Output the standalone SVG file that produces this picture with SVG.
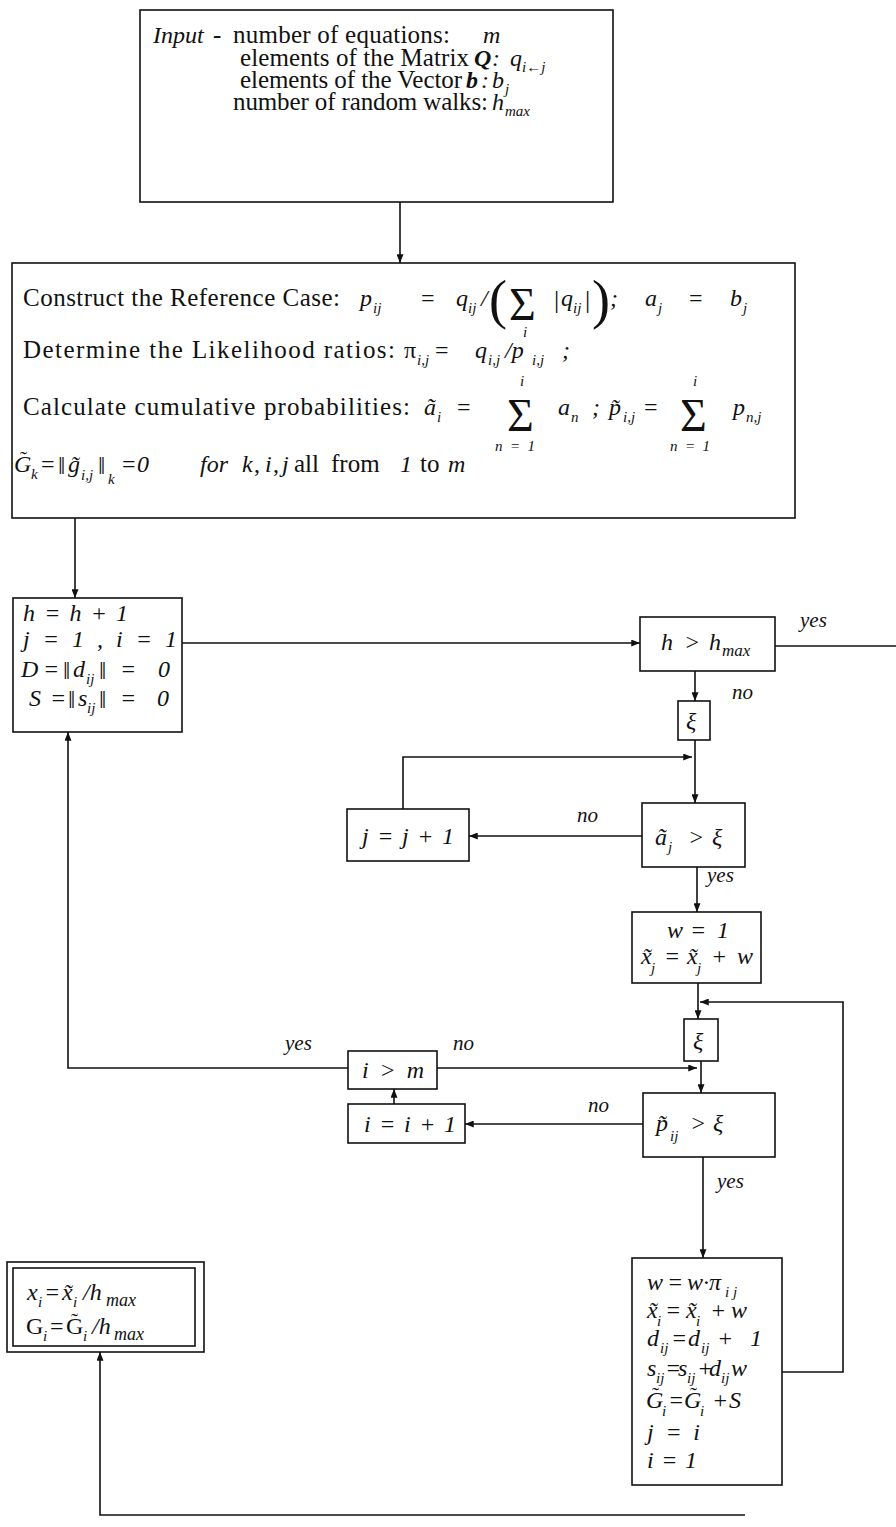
<svg xmlns="http://www.w3.org/2000/svg" width="896" height="1527" viewBox="0 0 896 1527">
<style>
text{font-family:"Liberation Serif","Times New Roman","DejaVu Serif",serif;fill:#111}
.r{font-size:25px}
.i{font-size:24px;font-style:italic}
.s{font-size:15px;font-style:italic}
.u{font-style:normal}
.bi{font-style:italic;font-weight:bold}
.lb{font-size:21px;font-style:italic}
.tl{font-size:21px;font-style:normal}
.big{font-size:54px;font-style:normal}
.sig{font-size:46px;font-style:normal}
.bar{font-size:26px;font-style:normal}
.box{fill:#fff;stroke:#111;stroke-width:1.6}
.ln{fill:none;stroke:#111;stroke-width:1.6}
.ar{marker-end:url(#a)}
</style>
<defs>
<marker id="a" viewBox="0 0 10 8" refX="10" refY="4" markerWidth="9" markerHeight="7" orient="auto" markerUnits="userSpaceOnUse"><path d="M0,0L10,4L0,8z" fill="#111"/></marker>
</defs>
<rect width="896" height="1527" fill="#fff"/>

<g id="connectors">
<path class="ln ar" d="M400,202V263"/>
<path class="ln ar" d="M75,518V598"/>
<path class="ln ar" d="M182,643H640"/>
<path class="ln" d="M775,646H896"/>
<path class="ln ar" d="M695,671V701"/>
<path class="ln ar" d="M695,740V803"/>
<path class="ln ar" d="M403,809V757H692"/>
<path class="ln ar" d="M642,836H469"/>
<path class="ln ar" d="M697,867V912"/>
<path class="ln ar" d="M698,983V1019"/>
<path class="ln ar" d="M782,1372H843V1002H700"/>
<path class="ln ar" d="M701,1061V1093"/>
<path class="ln ar" d="M437,1068H697"/>
<path class="ln ar" d="M643,1124H465"/>
<path class="ln ar" d="M394,1104V1089"/>
<path class="ln ar" d="M348,1068H68V732"/>
<path class="ln ar" d="M703,1157V1258"/>
<path class="ln ar" d="M745,1515H100V1352"/>
<text class="lb" x="800" y="627">yes</text>
<text class="lb" x="732" y="699">no</text>
<text class="lb" x="577" y="822">no</text>
<text class="lb" x="707" y="882">yes</text>
<text class="lb" x="285" y="1050">yes</text>
<text class="lb" x="453" y="1050">no</text>
<text class="lb" x="588" y="1112">no</text>
<text class="lb" x="717" y="1188">yes</text>
</g>

<g id="input">
<rect class="box" x="140" y="10" width="473" height="192"/>
<text class="i" x="153" y="43">Input</text>
<text class="r" x="213" y="43">-</text>
<text class="r" x="233" y="43" textLength="217" lengthAdjust="spacing">number of equations:</text>
<text class="i" x="483" y="43">m</text>
<text class="r" x="240" y="66" textLength="229" lengthAdjust="spacing">elements of the Matrix</text>
<text class="i"><tspan class="bi" x="474" y="66">Q</tspan><tspan x="492" y="66">:</tspan><tspan x="510" y="66">q</tspan><tspan class="s" x="522" y="72">i←j</tspan></text>
<text class="r" x="240" y="88" textLength="222" lengthAdjust="spacing">elements of the Vector</text>
<text class="i"><tspan class="bi" x="466" y="88">b</tspan><tspan x="481" y="88">:</tspan><tspan x="492" y="88">b</tspan><tspan class="s" x="505" y="94">j</tspan></text>
<text class="r" x="233" y="110" textLength="255" lengthAdjust="spacing">number of random walks:</text>
<text class="i"><tspan x="492" y="110">h</tspan><tspan class="s" x="505" y="116">max</tspan></text>
</g>

<g id="reference">
<rect class="box" x="12" y="263" width="783" height="255"/>
<text class="r" x="23" y="306" textLength="317" lengthAdjust="spacing">Construct the Reference Case:</text>
<text class="i"><tspan x="360" y="306">p</tspan><tspan class="s" x="373" y="313">ij</tspan><tspan class="u" x="421" y="306">=</tspan><tspan x="456" y="306">q</tspan><tspan class="s" x="468" y="313">ij</tspan><tspan x="481" y="306">/</tspan><tspan class="big" x="489" y="318">(</tspan><tspan class="sig" x="509" y="320">Σ</tspan><tspan class="s" x="523" y="337">i</tspan><tspan class="bar" x="554" y="308">|</tspan><tspan x="561" y="306">q</tspan><tspan class="s" x="573" y="313">ij</tspan><tspan class="bar" x="585" y="308">|</tspan><tspan class="big" x="592" y="318">)</tspan><tspan x="610" y="306">;</tspan><tspan x="645" y="306">a</tspan><tspan class="s" x="658" y="313">j</tspan><tspan class="u" x="689" y="306">=</tspan><tspan x="730" y="306">b</tspan><tspan class="s" x="743" y="313">j</tspan></text>

<text class="r" x="23" y="358" textLength="372" lengthAdjust="spacing">Determine the Likelihood ratios:</text>
<text class="i"><tspan class="u" x="404" y="358">π</tspan><tspan class="s" x="417" y="365">i,j</tspan><tspan class="u" x="435" y="358">=</tspan><tspan x="475" y="358">q</tspan><tspan class="s" x="488" y="365">i,j</tspan><tspan x="505" y="358">/p</tspan><tspan class="s" x="532" y="365">i,j</tspan><tspan x="562" y="358">;</tspan></text>

<text class="r" x="23" y="415" textLength="387" lengthAdjust="spacing">Calculate cumulative probabilities:</text>
<text class="i"><tspan x="424" y="415">ã</tspan><tspan class="s" x="437" y="422">i</tspan><tspan class="u" x="457" y="415">=</tspan><tspan class="sig" x="507" y="431">Σ</tspan><tspan class="s" x="520" y="386">i</tspan><tspan class="s" x="495" y="451" xml:space="preserve">n  =  1</tspan><tspan x="558" y="415">a</tspan><tspan class="s" x="571" y="422">n</tspan><tspan x="592" y="415">;</tspan><tspan x="609" y="415">p̃</tspan><tspan class="s" x="623" y="422">i,j</tspan><tspan class="u" x="644" y="415">=</tspan><tspan class="sig" x="680" y="431">Σ</tspan><tspan class="s" x="693" y="386">i</tspan><tspan class="s" x="670" y="451" xml:space="preserve">n  =  1</tspan><tspan x="733" y="415">p</tspan><tspan class="s" x="746" y="422">n,j</tspan></text>

<text class="i"><tspan x="14" y="472">G</tspan><tspan class="tl" x="20" y="466">˜</tspan><tspan class="s" x="31" y="479">k</tspan><tspan class="u" x="41" y="472">=</tspan><tspan class="bar" x="58" y="474">‖</tspan><tspan x="68" y="472">g̃</tspan><tspan class="s" x="81" y="480">i,j</tspan><tspan class="bar" x="98" y="474">‖</tspan><tspan class="s" x="108" y="484">k</tspan><tspan class="u" x="122" y="472">=</tspan><tspan x="137" y="472">0</tspan><tspan x="200" y="472">for</tspan><tspan x="242" y="472">k</tspan><tspan class="u" x="254" y="472">,</tspan><tspan x="265" y="472">i</tspan><tspan class="u" x="273" y="472">,</tspan><tspan x="282" y="472">j</tspan></text>
<text class="r" x="294" y="472">all</text>
<text class="r" x="331" y="472">from</text>
<text class="i"><tspan x="400" y="472">1</tspan><tspan class="u" x="420" y="472" style="font-size:25px">to</tspan><tspan x="448" y="472">m</tspan></text>
</g>

<g id="init">
<rect class="box" x="13" y="598" width="169" height="134"/>
<text class="i" x="23" y="621" textLength="105" lengthAdjust="spacing">h = h + 1</text>
<text class="i" x="23" y="647" textLength="154" lengthAdjust="spacing">j = 1 ,  i = 1</text>
<text class="i"><tspan x="21" y="677">D</tspan><tspan x="43" y="677">=</tspan><tspan class="bar" x="63" y="679">‖</tspan><tspan x="73" y="677">d</tspan><tspan class="s" x="86" y="684">ij</tspan><tspan class="bar" x="99" y="679">‖</tspan><tspan x="120" y="677">=</tspan><tspan x="158" y="677">0</tspan></text>
<text class="i"><tspan x="29" y="706">S</tspan><tspan x="50" y="706">=</tspan><tspan class="bar" x="68" y="708">‖</tspan><tspan x="78" y="706">s</tspan><tspan class="s" x="87" y="713">ij</tspan><tspan class="bar" x="99" y="708">‖</tspan><tspan x="120" y="706">=</tspan><tspan x="157" y="706">0</tspan></text>
</g>

<g id="test-h">
<rect class="box" x="640" y="617" width="135" height="54"/>
<text class="i"><tspan x="661" y="650">h</tspan><tspan x="684" y="650">&gt;</tspan><tspan x="709" y="650">h</tspan><tspan class="s" x="722" y="656" style="font-size:17px">max</tspan></text>
</g>

<g id="xi1">
<rect class="box" x="678" y="701" width="32" height="39"/>
<text class="i" x="686" y="729">ξ</text>
</g>

<g id="inc-j">
<rect class="box" x="347" y="809" width="122" height="52"/>
<text class="i" x="362" y="844" textLength="92" lengthAdjust="spacing">j = j + 1</text>
</g>

<g id="test-a">
<rect class="box" x="642" y="803" width="103" height="64"/>
<text class="i"><tspan x="655" y="845">ã</tspan><tspan class="s" x="668" y="852">j</tspan><tspan x="688" y="845">&gt;</tspan><tspan x="712" y="845">ξ</tspan></text>
</g>

<g id="set-w">
<rect class="box" x="632" y="912" width="129" height="71"/>
<text class="i"><tspan x="667" y="938">w</tspan><tspan x="690" y="938">=</tspan><tspan x="717" y="938">1</tspan></text>
<text class="i"><tspan x="641" y="964">x̃</tspan><tspan class="s" x="651" y="973">j</tspan><tspan x="664" y="964">=</tspan><tspan x="687" y="964">x̃</tspan><tspan class="s" x="697" y="973">j</tspan><tspan x="711" y="964">+</tspan><tspan x="737" y="964">w</tspan></text>
</g>

<g id="xi2">
<rect class="box" x="684" y="1019" width="34" height="42"/>
<text class="i" x="693" y="1049">ξ</text>
</g>

<g id="test-i">
<rect class="box" x="348" y="1051" width="89" height="38"/>
<text class="i" x="362" y="1078" textLength="62" lengthAdjust="spacing">i &gt; m</text>
</g>

<g id="inc-i">
<rect class="box" x="348" y="1104" width="117" height="39"/>
<text class="i" x="364" y="1132" textLength="92" lengthAdjust="spacing">i = i + 1</text>
</g>

<g id="test-p">
<rect class="box" x="643" y="1093" width="132" height="64"/>
<text class="i"><tspan x="656" y="1131">p̃</tspan><tspan class="s" x="670" y="1141">ij</tspan><tspan x="690" y="1131">&gt;</tspan><tspan x="713" y="1131">ξ</tspan></text>
</g>

<g id="update">
<rect class="box" x="632" y="1258" width="150" height="227"/>
<text class="i"><tspan x="647" y="1290">w</tspan><tspan x="667" y="1290">=</tspan><tspan x="687" y="1290">w·π</tspan><tspan class="s" x="725" y="1297">i j</tspan></text>
<text class="i"><tspan x="647" y="1318">x̃</tspan><tspan class="s" x="657" y="1326">i</tspan><tspan x="665" y="1318">=</tspan><tspan x="686" y="1318">x̃</tspan><tspan class="s" x="696" y="1326">i</tspan><tspan x="710" y="1318">+</tspan><tspan x="731" y="1318">w</tspan></text>
<text class="i"><tspan x="647" y="1346">d</tspan><tspan class="s" x="660" y="1353">ij</tspan><tspan x="671" y="1346">=</tspan><tspan x="688" y="1346">d</tspan><tspan class="s" x="701" y="1353">ij</tspan><tspan x="717" y="1346">+</tspan><tspan x="750" y="1346">1</tspan></text>
<text class="i"><tspan x="647" y="1376">s</tspan><tspan class="s" x="656" y="1383">ij</tspan><tspan x="665" y="1376">=</tspan><tspan x="678" y="1376">s</tspan><tspan class="s" x="687" y="1383">ij</tspan><tspan x="697" y="1376">+</tspan><tspan x="709" y="1376">d</tspan><tspan class="s" x="721" y="1383">ij</tspan><tspan x="731" y="1376">w</tspan></text>
<text class="i"><tspan x="646" y="1408">G</tspan><tspan class="tl" x="652" y="1402">˜</tspan><tspan class="s" x="662" y="1416">i</tspan><tspan x="668" y="1408">=</tspan><tspan x="684" y="1408">G</tspan><tspan class="tl" x="690" y="1402">˜</tspan><tspan class="s" x="700" y="1416">i</tspan><tspan x="712" y="1408">+</tspan><tspan x="729" y="1408">S</tspan></text>
<text class="i" x="647" y="1440" textLength="53" lengthAdjust="spacing">j = i</text>
<text class="i" x="647" y="1468" textLength="50" lengthAdjust="spacing">i = 1</text>
</g>

<g id="result">
<rect class="box" x="7" y="1262" width="197" height="90"/>
<rect class="box" x="13" y="1268" width="182" height="78"/>
<text class="i"><tspan x="27" y="1300">x</tspan><tspan class="s" x="38" y="1307">i</tspan><tspan x="44" y="1300">=</tspan><tspan x="62" y="1300">x̃</tspan><tspan class="s" x="73" y="1307">i</tspan><tspan x="83" y="1300">/h</tspan><tspan class="s" x="106" y="1306" style="font-size:18px">max</tspan></text>
<text class="i"><tspan class="u" x="26" y="1334">G</tspan><tspan class="s" x="43" y="1341">i</tspan><tspan class="u" x="50" y="1334">=</tspan><tspan class="u" x="66" y="1334">G</tspan><tspan class="tl" x="71" y="1328">˜</tspan><tspan class="s" x="83" y="1341">i</tspan><tspan x="92" y="1334">/h</tspan><tspan class="s" x="114" y="1340" style="font-size:18px">max</tspan></text>
</g>
</svg>
